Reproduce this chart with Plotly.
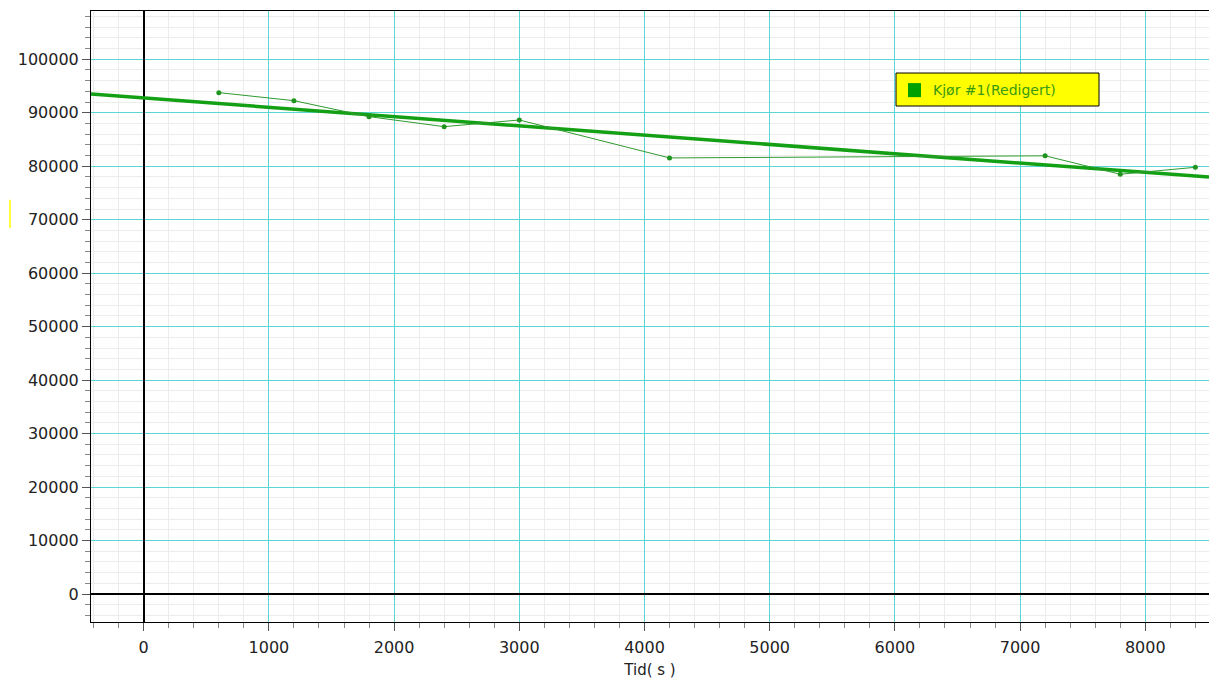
import plotly.graph_objects as go

# Data
time_s = [600, 1200, 1800, 2400, 3000, 4200, 7200, 7800, 8400]
values = [93760, 92260, 89270, 87400, 88650, 81550, 81950, 78500, 79800]

# Linear fit line (endpoints at axis limits)
fit_x = [-421, 8509]
fit_y = [93500, 77970]

x_range = [-421, 8509]
y_range = [-5234, 109028]

series_name = "Kjør #1(Redigert)"
x_title = "Tid( s )"

FONT = "DejaVu Sans"

fig = go.Figure()

fig.add_trace(go.Scatter(
    x=fit_x, y=fit_y, mode="lines",
    line=dict(color="#14a014", width=3.5),
    showlegend=False, hoverinfo="skip",
))

fig.add_trace(go.Scatter(
    x=time_s, y=values, mode="lines+markers",
    line=dict(color="#2f9a2f", width=1),
    marker=dict(color="#1f951f", size=5, symbol="circle"),
    name=series_name, showlegend=False,
))

axis_common = dict(
    showline=True, linecolor="black", linewidth=1,
    showgrid=True, gridcolor="#5ad6d6", gridwidth=1,
    zeroline=True, zerolinecolor="black", zerolinewidth=1.5,
    ticks="outside", ticklen=8, tickcolor="#555555",
    tickfont=dict(family=FONT, size=16, color="#222222"),
    tickformat="d", automargin=False,
)

fig.update_xaxes(
    range=x_range, dtick=1000, tick0=0, mirror=True,
    minor=dict(dtick=200, showgrid=True, gridcolor="#ececec",
               ticks="outside", ticklen=5, tickcolor="#888888"),
    title=dict(text=x_title, font=dict(family=FONT, size=15, color="#222222"), standoff=8),
    ticklabelstandoff=3,
    **axis_common,
)
fig.update_yaxes(
    range=y_range, dtick=10000, tick0=0, mirror=False,
    minor=dict(dtick=2000, showgrid=True, gridcolor="#ececec",
               ticks="outside", ticklen=5, tickcolor="#888888"),
    **axis_common,
)

# Plot area spans 1118 px horizontally (91..1209)
W = 1118.0
def px(xp):
    return (xp - 91) / W

# Legend box (yellow with black border, green square, green text)
fig.add_shape(type="rect", xref="paper", yref="paper",
              x0=px(896), x1=px(1099), y0=0.8445, y1=0.8985,
              fillcolor="#ffff00", line=dict(color="black", width=1))
fig.add_shape(type="rect", xref="paper", yref="paper",
              x0=px(908), x1=px(921), y0=0.859, y1=0.882,
              fillcolor="#00a000", line=dict(color="#00a000", width=0))
fig.add_annotation(xref="paper", yref="paper", x=px(931), y=0.8707,
                   xanchor="left", yanchor="middle", showarrow=False,
                   text=series_name,
                   font=dict(family=FONT, size=14, color="#3a9a10"))

# small yellow marker at the left edge
fig.add_shape(type="line", xref="paper", yref="paper",
              x0=px(10), x1=px(10), y0=0.645, y1=0.691,
              line=dict(color="#ffff40", width=2))

fig.update_layout(
    width=1209, height=680,
    margin=dict(l=91, r=0, t=11, b=58, autoexpand=False),
    paper_bgcolor="white", plot_bgcolor="white",
    showlegend=False,
    font=dict(family=FONT, size=15, color="#222222"),
)

fig.write_html(
    "out.html",
    config={"displayModeBar": False},
    post_script="document.body.style.margin='0';document.body.style.overflow='hidden';",
)
